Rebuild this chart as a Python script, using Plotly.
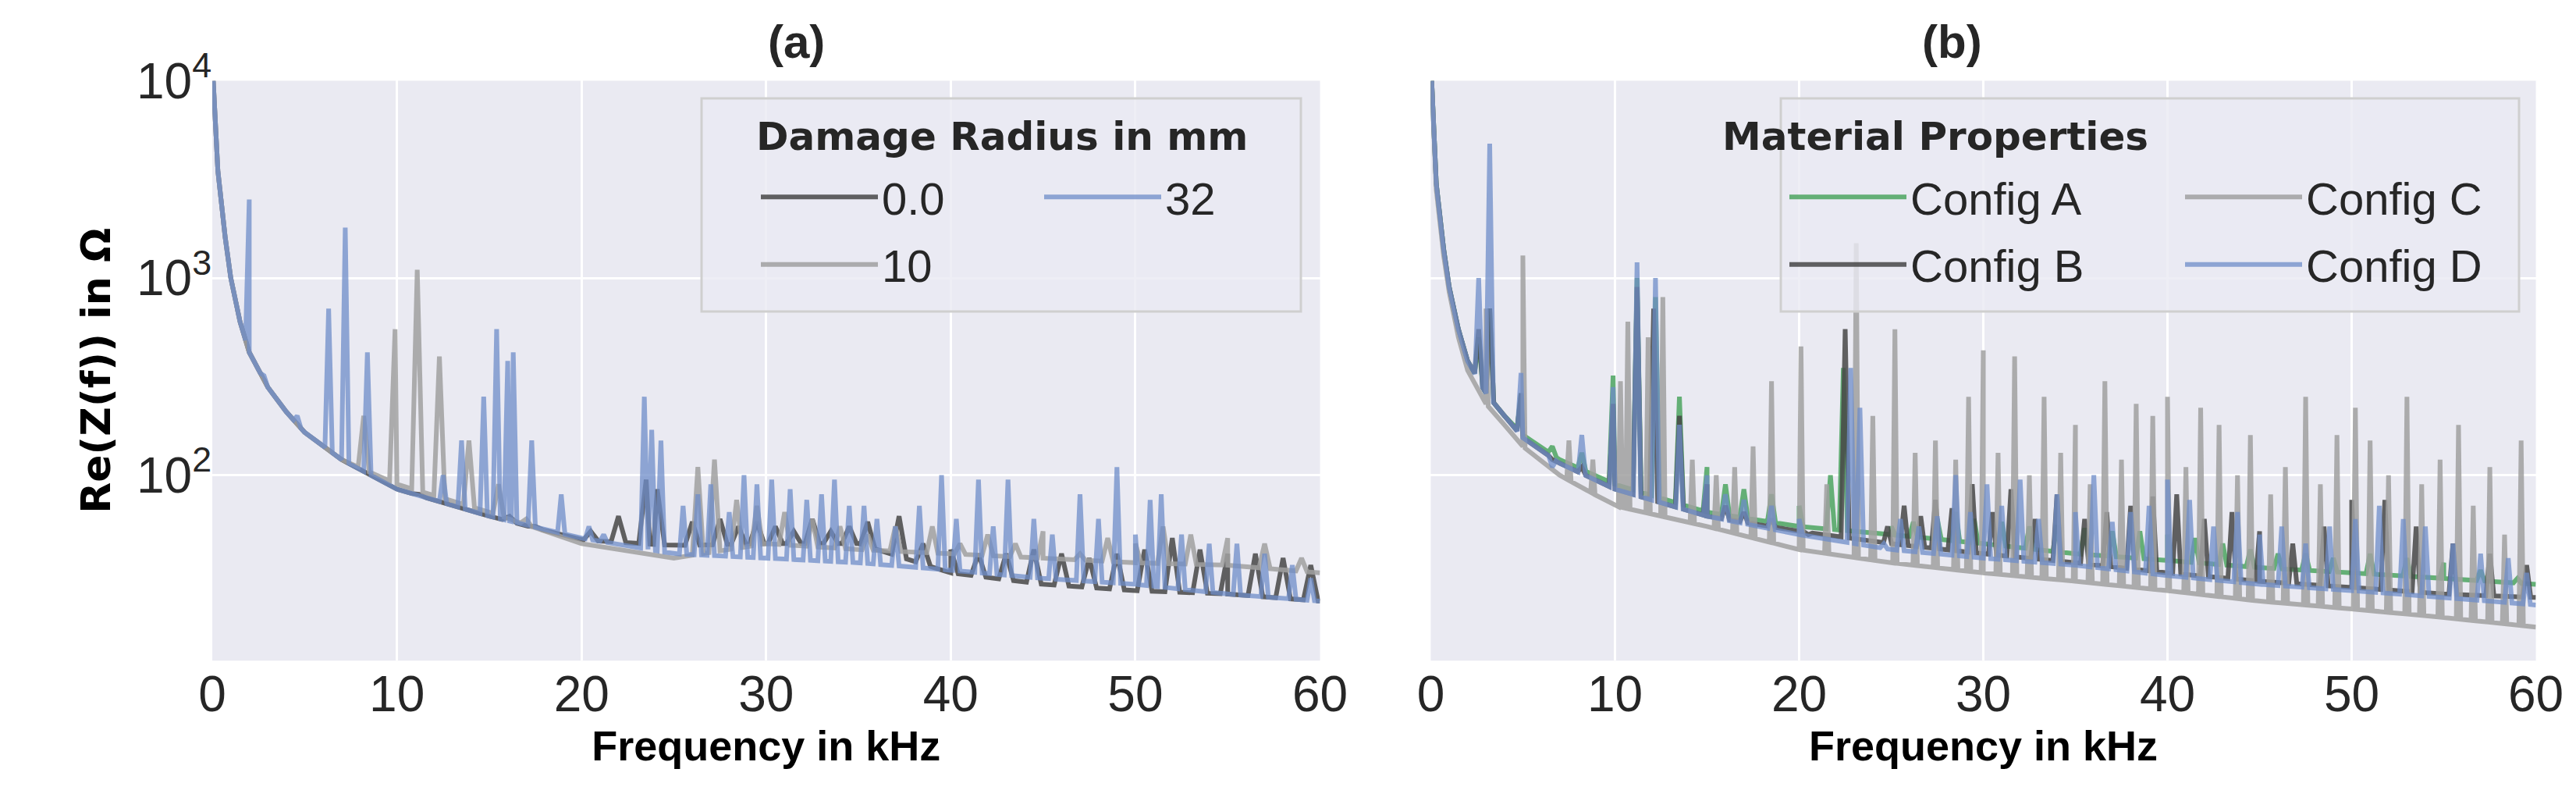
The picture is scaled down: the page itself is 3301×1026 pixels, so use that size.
import numpy as np
import plotly.graph_objects as go
from plotly.subplots import make_subplots

base_f = [0.05, 0.3, 0.7, 1, 1.5, 2, 3, 4, 5, 7, 10, 15, 20, 25, 30, 35, 40, 45, 50, 55, 60]

# Panel (a): damage radius
r00_base = [10000, 3500, 1600, 1000, 600, 420, 280, 210, 165, 120, 85, 62, 47, 44, 45, 45, 32, 28, 26, 25, 23]
r00_pf = [11.2, 16.1, 17.5, 19, 20.5, 22, 23.5, 24.1, 26, 27.5, 28.5, 29.5, 30.5, 31.5, 32.5, 33.5, 34.5, 35.5, 37.2, 38.5,
          40, 41.5, 43, 44.5, 46, 47.5, 49, 50.5, 52, 53.5, 55, 56.5, 58, 59.5]
r00_pv = [80, 62, 55, 50, 52, 62, 95, 85, 58, 60, 55, 58, 55, 52, 60, 52, 55, 58, 62, 45,
          42, 40, 40, 42, 40, 38, 40, 42, 48, 42, 40, 40, 38, 35]

r10_base = [10000, 3500, 1600, 1000, 600, 420, 280, 210, 165, 120, 90, 65, 45, 38, 45, 42, 40, 38, 36, 35, 32]
r10_pf = [8.2, 9.9, 11.1, 12.3, 13.9, 15.5, 17, 26.3, 27.2, 28.4, 29.5, 31, 32.5, 34, 35.5, 37, 39, 40.5, 42, 43.5,
          45, 47, 48.5, 50, 51.5, 53, 55, 57, 59]
r10_pv = [200, 550, 1100, 400, 150, 90, 60, 110, 120, 75, 70, 65, 60, 55, 50, 55, 55, 45, 50, 45,
          52, 40, 48, 45, 55, 50, 48, 45, 38]

r32_base = [10000, 3500, 1600, 1000, 600, 420, 280, 210, 165, 120, 85, 62, 48, 40, 38, 36, 33, 30, 28, 25, 23]
r32_pf = [2.0, 2.8, 4.6, 6.3, 7.2, 8.4, 12.5, 13.5, 14.7, 15.4, 16.0, 16.3, 17.3, 18.9, 20.4, 21.2, 23.4, 23.8, 24.3, 25.5,
          26.3, 27, 28, 28.8, 29.5, 30.3, 31.3, 32.2, 33, 33.7, 34.5, 35.3, 36, 37, 38.3, 39.5, 40.3, 41.5, 42.3, 43.1,
          44.5, 45.5, 47, 48, 49, 50, 50.8, 51.4, 52.5, 54, 55.5, 57, 58.5, 59.5]
r32_pv = [2500, 320, 200, 700, 1800, 420, 100, 150, 250, 550, 380, 420, 150, 80, 55, 50, 250, 170, 150, 70,
          80, 90, 65, 100, 90, 95, 85, 75, 80, 95, 70, 70, 60, 55, 70, 100, 60, 95, 55, 95,
          60, 50, 80, 60, 110, 50, 75, 80, 50, 45, 45, 40, 35, 30]

# Panel (b): material properties
cA_base = [10000, 3000, 1400, 900, 550, 380, 260, 200, 160, 120, 90, 65, 55, 50, 45, 40, 37, 34, 32, 30, 28]
cA_pf = [2.6, 3.2, 4.9, 6.6, 8.2, 9.9, 11.2, 12.2, 13.5, 15, 16, 17, 18.5, 20, 21.7, 22.4, 25, 26.2, 27.5, 28.5,
         29.5, 31, 32.5, 34, 35.5, 37, 38.5, 40, 41.5, 43, 44.5, 46, 47.5, 49, 51, 53, 55, 57, 59]
cA_pv = [500, 700, 260, 140, 130, 320, 1000, 800, 250, 110, 90, 85, 80, 70, 100, 350, 55, 58, 60, 65,
         60, 58, 55, 56, 54, 52, 52, 50, 48, 45, 42, 40, 40, 38, 40, 38, 36, 33, 30]

cB_base = [10000, 3000, 1400, 900, 550, 380, 260, 200, 155, 115, 85, 62, 52, 45, 40, 36, 32, 29, 27, 25, 24]
cB_pf = [2.6, 3.2, 4.9, 6.6, 8.2, 9.9, 11.2, 12.1, 13.5, 15, 16, 17, 18.5, 20.5, 22.5, 24.8, 25.7, 26.6, 27.4, 28.3,
         29.4, 30.5, 31.5, 32.8, 34, 35.5, 36.7, 38, 39.2, 40.5, 42, 43.5, 45, 46.8, 48.5, 50, 51.8, 53.5, 55.5, 57.5, 59.5]
cB_pv = [550, 700, 260, 120, 110, 230, 900, 700, 200, 90, 70, 65, 60, 50, 550, 55, 70, 62, 75, 68,
         90, 65, 85, 60, 80, 60, 65, 70, 78, 80, 60, 65, 52, 45, 55, 75, 75, 55, 45, 40, 35]

cC_base = [10000, 2800, 1300, 850, 500, 340, 230, 180, 140, 100, 70, 55, 42, 36, 32, 29, 26, 23, 21, 19, 17]
cC_pf = [3.0, 5.0, 7.5, 8.8, 10.3, 10.7, 11.8, 12.6, 14.2, 15.5, 16.5, 17.5, 18.5, 20.1, 21.5, 23.1, 24.0, 25.2, 26.3, 27.4,
         28.5, 29.2, 30.0, 30.8, 31.7, 32.5, 33.3, 34.2, 35.0, 35.8, 36.6, 37.5, 38.3, 39.2, 40.0, 41.0, 41.8, 42.8, 43.8, 44.5,
         45.6, 46.4, 47.5, 48.3, 49.2, 50.2, 51.0, 52.0, 53.0, 53.8, 54.8, 55.8, 56.6, 57.5, 58.3, 59.2]
cC_pv = [700, 1300, 150, 120, 300, 600, 500, 800, 120, 100, 110, 140, 300, 450, 90, 1500, 200, 550, 130, 150,
         120, 250, 430, 130, 400, 100, 250, 130, 180, 90, 300, 120, 230, 200, 250, 110, 220, 180, 100, 160,
         80, 110, 250, 90, 160, 220, 150, 100, 250, 90, 120, 180, 70, 110, 50, 150]

cD_base = [10000, 3000, 1400, 900, 550, 380, 260, 200, 155, 115, 85, 62, 50, 42, 38, 35, 31, 28, 26, 24, 22]
cD_pf = [2.6, 3.2, 4.9, 6.6, 8.2, 9.9, 11.2, 12.2, 13.5, 15, 16, 17, 18.5, 20, 22.8, 23.3, 24.6, 25.5, 26.5, 27.5,
         28.5, 29.3, 30.2, 31.0, 32.0, 33.0, 34.0, 35.0, 36.0, 37.0, 38.0, 39.0, 40.0, 41.2, 42.5, 43.8, 45.0, 46.2, 47.5, 48.8,
         50.2, 51.5, 52.8, 54, 55.5, 57, 58.5, 59.5]
cD_pv = [1000, 4800, 330, 110, 160, 280, 1200, 1000, 180, 100, 80, 75, 70, 60, 350, 220, 45, 60, 55, 62,
         100, 65, 90, 70, 95, 60, 80, 65, 100, 58, 65, 70, 95, 75, 55, 65, 50, 55, 45, 55,
         60, 70, 60, 55, 45, 40, 38, 32]


def spectrum(base_v, pf, pv, w):
    lb = np.log10(base_v)
    xs = list(base_f)
    ys = list(base_v)
    for f, v in zip(pf, pv):
        for d in (-w, w):
            xs.append(f + d)
            ys.append(10 ** np.interp(f + d, base_f, lb))
        xs.append(f)
        ys.append(v)
    o = np.argsort(xs)
    return np.array(xs)[o], np.array(ys)[o]


fig = make_subplots(rows=1, cols=2, shared_yaxes=True)

DARK = "rgba(70,70,70,0.85)"
GRAY = "rgba(160,160,160,0.85)"
BLUE = "rgba(110,140,200,0.75)"
GREEN = "rgba(85,168,104,0.9)"

left = [("0.0", r00_base, r00_pf, r00_pv, 0.4, DARK, "legend"),
        ("10", r10_base, r10_pf, r10_pv, 0.3, GRAY, "legend"),
        ("32", r32_base, r32_pf, r32_pv, 0.2, BLUE, "legend2")]
for name, b, pf, pv, w, c, lg in left:
    x, y = spectrum(b, pf, pv, w)
    fig.add_trace(go.Scatter(x=x, y=y, mode="lines", name=name, line=dict(color=c, width=6),
                             legend=lg, legendgroup=name), row=1, col=1)

right = [("Config A", cA_base, cA_pf, cA_pv, 0.22, GREEN, "legend3"),
         ("Config B", cB_base, cB_pf, cB_pv, 0.22, DARK, "legend3"),
         ("Config C", cC_base, cC_pf, cC_pv, 0.12, GRAY, "legend4"),
         ("Config D", cD_base, cD_pf, cD_pv, 0.2, BLUE, "legend4")]
for name, b, pf, pv, w, c, lg in right:
    x, y = spectrum(b, pf, pv, w)
    fig.add_trace(go.Scatter(x=x, y=y, mode="lines", name=name, line=dict(color=c, width=6),
                             legend=lg, legendgroup=name), row=1, col=2)

tickfont = dict(family="Liberation Sans", size=64, color="#262626")
axtitle = dict(family="Liberation Sans", size=54, color="black")
for col, dom in ((1, [0.080, 0.510]), (2, [0.553, 0.982])):
    fig.update_xaxes(row=1, col=col, domain=dom, range=[0, 60], tickvals=[0, 10, 20, 30, 40, 50, 60],
                     showgrid=True, gridcolor="white", gridwidth=3, zeroline=False, tickfont=tickfont,
                     ticks="", title=dict(text="<b>Frequency in kHz</b>", font=axtitle, standoff=8))
fig.update_yaxes(type="log", range=[1.06, 4], tickvals=[100, 1000, 10000],
                 ticktext=["10<sup>2</sup>", "10<sup>3</sup>", "10<sup>4</sup>"], domain=[0.183, 0.907],
                 showgrid=True, gridcolor="white", gridwidth=3, zeroline=False, tickfont=tickfont, ticks="")
fig.update_yaxes(row=1, col=1,
                 title=dict(text="<b>Re(Z(f)) in Ω</b>", font=dict(family="DejaVu Sans", size=52, color="black"),
                            standoff=16))
fig.update_yaxes(row=1, col=2, showticklabels=False)

legfont = dict(family="Liberation Sans", size=58, color="#262626")
titlefont = dict(family="DejaVu Sans", size=50, color="#262626")


def leg(x):
    return dict(x=x, y=0.805, xanchor="left", yanchor="top", orientation="v", bgcolor="rgba(0,0,0,0)",
                borderwidth=0, font=legfont, itemwidth=150, tracegroupgap=8)


W, H = 3301, 1026
fig.update_layout(
    width=W, height=H, margin=dict(l=0, r=0, t=0, b=0, autoexpand=False),
    paper_bgcolor="white", plot_bgcolor="#eaeaf2",
    showlegend=True,
    legend=leg(962 / W), legend2=leg(1325 / W), legend3=leg(2280 / W), legend4=leg(2787 / W),
    shapes=[
        dict(type="rect", xref="paper", yref="paper", x0=891 / W, x1=1659 / W, y0=1 - 391 / H, y1=1 - 118 / H,
             fillcolor="rgba(234,234,242,0.8)", line=dict(color="#cfcfcf", width=3), layer="above"),
        dict(type="rect", xref="paper", yref="paper", x0=2274 / W, x1=3220 / W, y0=1 - 391 / H, y1=1 - 118 / H,
             fillcolor="rgba(234,234,242,0.8)", line=dict(color="#cfcfcf", width=3), layer="above"),
    ],
    annotations=[
        dict(text="<b>(a)</b>", x=0.295, y=1 - 45 / H, xref="paper", yref="paper", showarrow=False,
             yanchor="middle", font=dict(family="Liberation Sans", size=60, color="#262626")),
        dict(text="<b>(b)</b>", x=0.7675, y=1 - 45 / H, xref="paper", yref="paper", showarrow=False,
             yanchor="middle", font=dict(family="Liberation Sans", size=60, color="#262626")),
        dict(text="<b>Damage Radius in mm</b>", x=1276 / W, y=1 - 167 / H, xref="paper", yref="paper",
             yanchor="middle", showarrow=False, font=titlefont),
        dict(text="<b>Material Properties</b>", x=2747 / W, y=1 - 167 / H, xref="paper", yref="paper",
             yanchor="middle", showarrow=False, font=titlefont),
    ],
)

fig.write_html("out.html")
